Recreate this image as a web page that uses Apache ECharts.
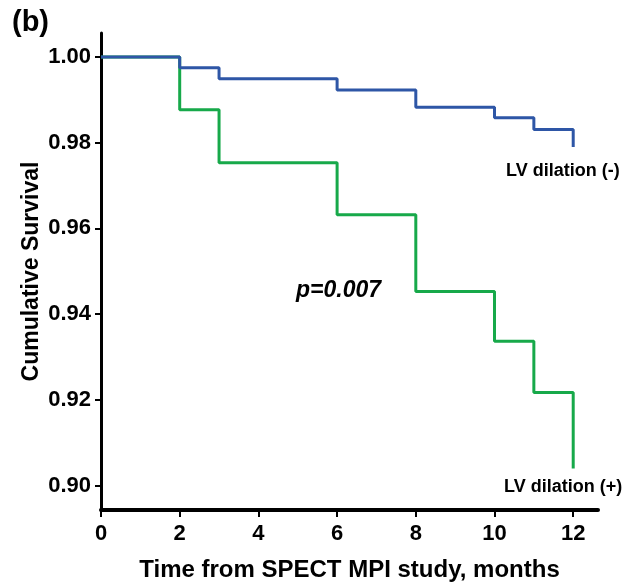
<!DOCTYPE html>
<html>
<head>
<meta charset="utf-8">
<script src="https://cdn.jsdelivr.net/npm/echarts@6/dist/echarts.min.js"></script>
<style>
html,body{margin:0;padding:0;background:#fff;}
#chart{width:628px;height:587px;}
</style>
</head>
<body>
<div id="chart"></div>
<script>
// Data
var months = [0, 2, 3, 6, 8, 10, 11, 12];
var survivalNeg = [1.0, 0.9975, 0.9949, 0.9923, 0.9883, 0.9858, 0.9831, 0.9790]; // LV dilation (-)
var survivalPos = [1.0, 0.9877, 0.9753, 0.9632, 0.9453, 0.9337, 0.9217, 0.9040]; // LV dilation (+)
var xTicks = [0, 2, 4, 6, 8, 10, 12];
var yTicks = [0.90, 0.92, 0.94, 0.96, 0.98, 1.00];

function pairs(xs, ys) { return xs.map(function (x, i) { return [x, ys[i]]; }); }

var font = 'Liberation Sans, Arial, sans-serif';
var chart = echarts.init(document.getElementById('chart'), null, {renderer: 'canvas'});
chart.setOption({
  animation: false,
  backgroundColor: '#fff',
  grid: {left: 101, right: 30, top: 33, bottom: 74},
  xAxis: {
    type: 'value', min: 0, max: 12.63,
    name: 'Time from SPECT MPI study, months', nameLocation: 'middle', nameGap: 48, nameMoveOverlap: false,
    nameTextStyle: {fontFamily: font, fontWeight: 'bold', fontSize: 24, color: '#000'},
    axisLine: {show: true, onZero: false, lineStyle: {color: '#000', width: 4}},
    axisTick: {show: true, length: 7, lineStyle: {color: '#000', width: 2}, customValues: xTicks},
    axisLabel: {margin: 13, fontFamily: font, fontWeight: 'bold', fontSize: 22, color: '#000', customValues: xTicks,
      formatter: function (v) { return String(v); }},
    splitLine: {show: false}
  },
  yAxis: {
    type: 'value', min: 0.8943, max: 1.0056,
    name: 'Cumulative Survival', nameLocation: 'middle', nameGap: 58, nameMoveOverlap: false,
    nameTextStyle: {fontFamily: font, fontWeight: 'bold', fontSize: 23, color: '#000'},
    axisLine: {show: true, onZero: false, lineStyle: {color: '#000', width: 3}},
    axisTick: {show: true, length: 6, lineStyle: {color: '#000', width: 2}, customValues: yTicks},
    axisLabel: {margin: 10, fontFamily: font, fontWeight: 'bold', fontSize: 22, color: '#000', customValues: yTicks,
      formatter: function (v) { return v.toFixed(2); }},
    splitLine: {show: false}
  },
  series: [
    {name: 'LV dilation (-)', type: 'line', step: 'end', showSymbol: false,
      data: pairs(months, survivalNeg), lineStyle: {color: '#2E56A6', width: 3}, z: 3},
    {name: 'LV dilation (+)', type: 'line', step: 'end', showSymbol: false,
      data: pairs(months, survivalPos), lineStyle: {color: '#17A94A', width: 3}, z: 2}
  ],
  graphic: [
    {type: 'text', left: 12, top: 8, style: {text: '(b)', fontFamily: font, fontWeight: 'bold', fontSize: 29, fill: '#000'}},
    {type: 'text', left: 506, top: 162, style: {text: 'LV dilation (-)', fontFamily: font, fontWeight: 'bold', fontSize: 18, fill: '#000'}},
    {type: 'text', left: 504, top: 478, style: {text: 'LV dilation (+)', fontFamily: font, fontWeight: 'bold', fontSize: 18, fill: '#000'}},
    {type: 'text', left: 296, top: 279, style: {text: 'p=0.007', fontFamily: font, fontWeight: 'bold', fontStyle: 'italic', fontSize: 23, fill: '#000'}}
  ]
});
</script>
</body>
</html>
